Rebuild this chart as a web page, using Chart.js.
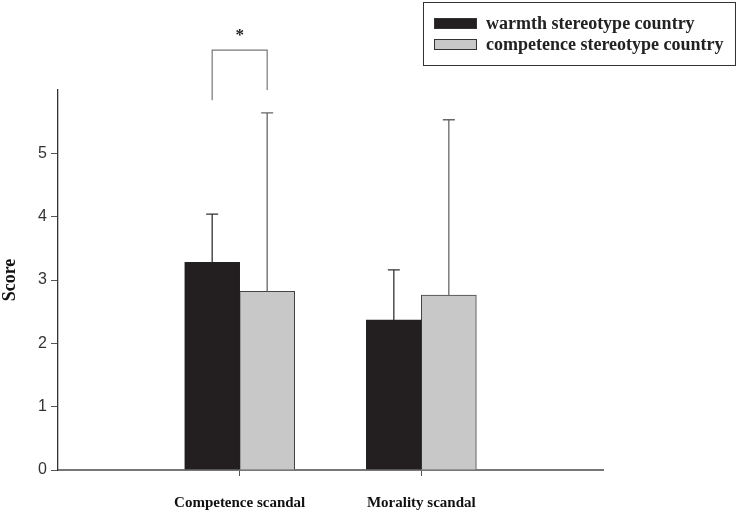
<!DOCTYPE html>
<html>
<head>
<meta charset="utf-8">
<script src="https://cdn.jsdelivr.net/npm/chart.js@4.4.1/dist/chart.umd.min.js"></script>
<style>
  html, body { margin: 0; padding: 0; background: #fff; }
  #wrap { position: relative; width: 739px; height: 514px; }
  #legend {
    position: absolute; left: 423px; top: 2px; width: 313px; height: 64px;
    border: 1px solid #333; box-sizing: border-box;
    font: bold 18px "Liberation Serif", "Times New Roman", serif; color: #222;
  }
  .row { position: absolute; left: 10px; height: 20px; line-height: 20px; white-space: nowrap; }
  .sw { display: inline-block; width: 43px; height: 11px; border: 1px solid #333; vertical-align: middle; margin-right: 9px; box-sizing: border-box; position: relative; top: -1px; }
</style>
</head>
<body>
<div id="wrap">
  <canvas id="chart" width="739" height="514"></canvas>
  <div id="legend"></div>
</div>
<script>
// data
var categories = ['', 'Competence scandal', 'Morality scandal', ''];
var seriesNames = ['warmth stereotype country', 'competence stereotype country'];
var warmthMeans = [null, 3.28, 2.37, null];
var competenceMeans = [null, 2.82, 2.76, null];
var warmthSD = [null, 0.76, 0.79, null];
var competenceSD = [null, 2.82, 2.77, null];
var yTicks = [0, 1, 2, 3, 4, 5];

var colors = ['#231f20', '#c8c8c8'];

// upward error bars
var errorBars = {
  id: 'errorBars',
  afterDatasetsDraw: function(chart) {
    var ctx = chart.ctx, y = chart.scales.y;
    var sds = [warmthSD, competenceSD];
    chart.data.datasets.forEach(function(ds, i) {
      var meta = chart.getDatasetMeta(i);
      meta.data.forEach(function(bar, j) {
        if (ds.data[j] == null) return;
        var top = y.getPixelForValue(ds.data[j] + sds[i][j]);
        ctx.save();
        ctx.strokeStyle = i == 0 ? '#333' : '#666';
        ctx.lineWidth = 1.3;
        ctx.beginPath();
        ctx.moveTo(bar.x, bar.y);
        ctx.lineTo(bar.x, top);
        ctx.moveTo(bar.x - 6, top);
        ctx.lineTo(bar.x + 6, top);
        ctx.stroke();
        ctx.restore();
      });
    });
  }
};

// significance bracket over the competence scandal pair
var bracket = {
  id: 'bracket',
  afterDraw: function(chart) {
    var ctx = chart.ctx, y = chart.scales.y;
    var a = chart.getDatasetMeta(0).data[1].x;
    var b = chart.getDatasetMeta(1).data[1].x;
    var top = y.getPixelForValue(6.63);
    ctx.save();
    ctx.strokeStyle = '#777';
    ctx.lineWidth = 1.2;
    ctx.beginPath();
    ctx.moveTo(a, y.getPixelForValue(5.84));
    ctx.lineTo(a, top);
    ctx.lineTo(b, top);
    ctx.lineTo(b, y.getPixelForValue(6.0));
    ctx.stroke();
    ctx.fillStyle = '#222';
    ctx.font = 'bold 17px "Liberation Serif", serif';
    ctx.textAlign = 'center';
    ctx.textBaseline = 'middle';
    ctx.fillText('*', (a + b) / 2, y.getPixelForValue(6.86));
    ctx.restore();
  }
};

var ctx = document.getElementById('chart').getContext('2d');
var chart = new Chart(ctx, {
  type: 'bar',
  data: {
    labels: categories,
    datasets: [
      { label: seriesNames[0], data: warmthMeans, backgroundColor: colors[0], borderColor: '#222', borderWidth: 1, barThickness: 55 },
      { label: seriesNames[1], data: competenceMeans, backgroundColor: colors[1], borderColor: '#444', borderWidth: 1, barThickness: 55 }
    ]
  },
  options: {
    responsive: false,
    animation: false,
    layout: { padding: { top: 90, right: 136, left: 0, bottom: 0 } },
    plugins: { legend: { display: false }, tooltip: { enabled: false } },
    scales: {
      x: {
        offset: false,
        grid: {
          offset: false, drawOnChartArea: false, tickLength: 6,
          tickColor: function(c) { return (c.index == 1 || c.index == 2) ? '#555' : 'rgba(0,0,0,0)'; }
        },
        border: { color: '#777', width: 2 },
        ticks: { color: '#111', padding: 18, maxRotation: 0, font: { family: '"Liberation Serif", serif', size: 15, weight: 'bold' } },
        afterFit: function(s) { s.height = 44; }
      },
      y: {
        min: 0, max: 6,
        afterBuildTicks: function(s) { s.ticks = yTicks.concat([6]).map(function(v) { return { value: v }; }); },
        grid: {
          drawOnChartArea: false, tickLength: 7,
          tickColor: function(c) { return c.tick.value == 6 ? 'rgba(0,0,0,0)' : '#555'; }
        },
        border: { color: '#333', width: 1.3 },
        ticks: {
          color: '#333', padding: 4,
          font: { family: '"Liberation Sans", Arial, sans-serif', size: 16 },
          callback: function(v) { return v == 6 ? '' : v; }
        },
        title: { display: true, text: 'Score', color: '#111', font: { family: '"Liberation Serif", serif', size: 18, weight: 'bold' }, padding: { top: 0, bottom: 0 } },
        afterFit: function(s) { s.width = 58; }
      }
    }
  },
  plugins: [errorBars, bracket]
});

// legend box
var legend = document.getElementById('legend');
seriesNames.forEach(function(name, i) {
  var row = document.createElement('div');
  row.className = 'row';
  row.style.top = (i == 0 ? 10 : 31) + 'px';
  row.innerHTML = '<span class="sw" style="background:' + colors[i] + '"></span>' + name;
  legend.appendChild(row);
});
</script>
</body>
</html>
